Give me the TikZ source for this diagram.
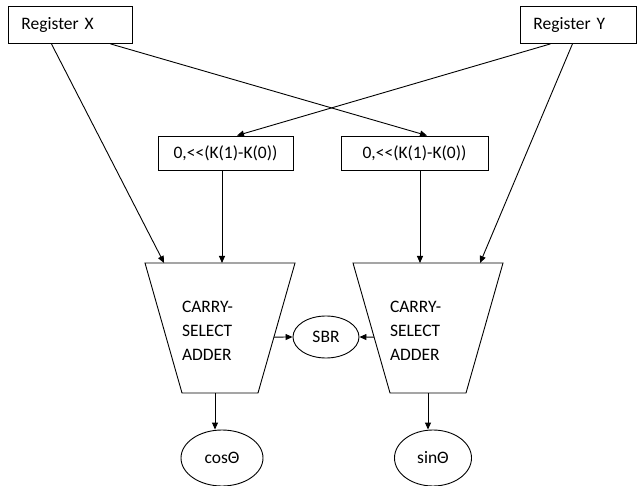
\documentclass[tikz,border=0pt]{standalone}
\usepackage{fontspec}
\setmainfont{Carlito}
\usetikzlibrary{arrows.meta,shapes.geometric,calc}

\begin{document}
\begin{tikzpicture}[x=1pt, y=-1pt, line width=0.9pt,
    reg/.style = {draw, anchor=north west, minimum height=37pt, inner xsep=13pt,
                  align=left, font=\fontsize{17.5}{19}\selectfont},
    shiftbox/.style = {draw, minimum width=135pt, minimum height=34pt,
                       font=\fontsize{17.5}{19}\selectfont},
    addtext/.style = {inner sep=0pt, text width=76pt, align=left,
                      font=\fontsize{17.5}{24}\selectfont},
    oval/.style = {draw, ellipse, inner sep=0pt, font=\fontsize{17.5}{19}\selectfont},
    arr/.style = {-{Triangle[length=7pt,width=6pt]}}]
    % frame
    \useasboundingbox (0,0) rectangle (637,486);
    % registers
    \node[reg, text width=98pt] (regX) at (8,6) {Register X};
    \node[reg, text width=90pt] (regY) at (520,6) {Register Y};
    % shifters
    \node[shiftbox] (shiftL) at (225.5,153) {0,<{}<(K(1)-K(0))};
    \node[shiftbox, minimum width=147pt] (shiftR) at (414.5,153) {0,<{}<(K(1)-K(0))};
    % adders: trapezoid corners and text
    \foreach \n/\x in {addL/220, addR/428}{
        \coordinate (\n tl) at (\x-75,263);
        \coordinate (\n tr) at (\x+75,263);
        \coordinate (\n br) at (\x+38,393);
        \coordinate (\n bl) at (\x-38,393);
        \draw (\n tl) -- (\n tr) -- (\n br) -- (\n bl) -- cycle;
        \node[addtext] (\n) at (\x,331) {CARRY-\\SELECT\\ADDER};
    }
    % sign bit register
    \node[oval, minimum width=66pt, minimum height=42pt] (sbr) at (326,337) {SBR};
    % outputs
    \node[oval, minimum width=82pt, minimum height=56pt] (cos) at (222,458) {cos\symbol{"0398}};
    \node[oval, minimum width=77pt, minimum height=56pt] (sin) at (433,458) {sin\symbol{"0398}};
    % crossing inputs
    \draw[arr] ([xshift=-19pt]regX.south) -- ($(addLtl)!0.127!(addLtr)$);
    \draw[arr] ([xshift=40pt]regX.south) -- ([xshift=12.5pt]shiftR.north);
    \draw[arr] ([xshift=-28pt]regY.south) -- ([xshift=11.5pt]shiftL.north);
    \draw[arr] ([xshift=-6pt]regY.south) -- ($(addRtl)!0.847!(addRtr)$);
    % shifted values
    \draw[arr] ([xshift=-3.5pt]shiftL.south) -- ([xshift=-3.5pt]shiftL.south |- addLtl);
    \draw[arr] ([xshift=5.5pt]shiftR.south) -- ([xshift=5.5pt]shiftR.south |- addRtl);
    % to sbr
    \draw[arr] ($(addLtr)!0.57!(addLbr)$) -- (sbr.west);
    \draw[arr] ($(addRtl)!0.57!(addRbl)$) -- (sbr.east);
    % results
    \draw[arr] ([xshift=-5pt]addL.center |- addLbl) -- ([xshift=-7pt]cos.north);
    \draw[arr] (addR.center |- addRbl) -- (addR.center |- sin.north);
\end{tikzpicture}
\end{document}
